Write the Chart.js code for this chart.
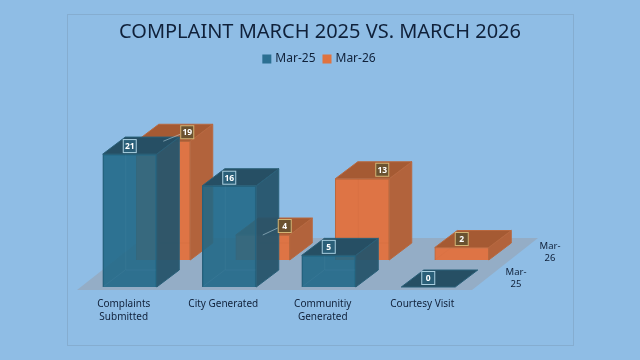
<!DOCTYPE html>
<html>
<head>
<meta charset="utf-8">
<style>html,body{margin:0;padding:0;background:#8fbde5}#w{width:640px;height:360px}</style>
<script src="https://cdn.jsdelivr.net/npm/chart.js@4"></script>
</head>
<body>
<div id="w"><canvas id="c" width="640" height="360"></canvas></div>
<script>
const titleText = "COMPLAINT MARCH 2025 VS. MARCH 2026";
const categories = [["Complaints","Submitted"],"City Generated",["Communitiy","Generated"],"Courtesy Visit"];
const seriesNames = ["Mar-25","Mar-26"];
const mar25 = [21,16,5,0];
const mar26 = [19,4,13,2];
const depthLabels = [["Mar-","25"],["Mar-","26"]];

const DX = 22.5, DY = -17, UNIT = 6.33, UNIT_BACK = 6.25, BASE = 287, YMAX = 30;
const BACK_X = 33.5, BACK_Y = -27;
const INK = "#10213a";
const skins = [
  {front:"rgba(32,104,134,0.88)",swatch:"#2b6f92",top:"#264f64",side:"rgba(38,84,107,0.95)",edge:"#2a6079",box:"#2a5f78",boxEdge:"#a9cfe0",inner:"rgba(170,210,230,0.06)"},
  {front:"#de7445",swatch:"#e0733f",top:"#a55a33",side:"#b2633c",edge:"#b8683f",box:"#6a5230",boxEdge:"#d2b474",inner:"rgba(120,50,20,0.04)"}
];
// label nudges from the centre of each bar's top edge: [dx, dy, leader?]
const nudges = [
  [[0,-8],[0,-8],[0,-8.5],[0,-9]],
  [[24,-9,1],[22,-9,1],[20,-9],[0,-8.5]]
];

function setRange(s,a,b){s._startPixel=a;s._endPixel=b;s._length=b-a;}
function poly(ctx,pts,fill,stroke){
  ctx.beginPath();pts.forEach((p,i)=>i?ctx.lineTo(p[0],p[1]):ctx.moveTo(p[0],p[1]));ctx.closePath();
  if(fill){ctx.fillStyle=fill;ctx.fill();}
  if(stroke){ctx.strokeStyle=stroke;ctx.lineWidth=1;ctx.stroke();}
}
function barBox(el){const p=el.getProps(['x','y','base','width'],true);return {l:p.x-p.width/2,r:p.x+p.width/2,t:p.y,b:p.base};}

const plugin3d = {
  id:"threeD",
  afterLayout(chart){
    const s=chart.scales;
    setRange(s.x,80,478); setRange(s.x2,80+BACK_X,478+BACK_X);
    setRange(s.y,BASE-YMAX*UNIT,BASE); setRange(s.y2,BASE+BACK_Y-YMAX*UNIT_BACK,BASE+BACK_Y);
  },
  beforeDraw(chart){
    const c=chart.ctx;
    c.save();c.strokeStyle="#85add0";c.lineWidth=1;c.strokeRect(67.5,14.5,506,331);
    // floor
    poly(c,[[77,290],[472,290],[538,238],[143,238]],"#94adc6");
    // depth axis labels
    c.fillStyle=INK;c.font='9.5px "Noto Sans"';c.textAlign="center";c.textBaseline="middle";
    [[516,272],[550,246]].forEach((p,i)=>{depthLabels[i].forEach((t,j)=>c.fillText(t,p[0],p[1]+j*12));});
    c.restore();
  },
  beforeDatasetDraw(chart,args){
    const c=chart.ctx,k=skins[args.index];
    c.save();
    chart.getDatasetMeta(args.index).data.forEach(el=>{
      const b=barBox(el);
      poly(c,[[b.l,b.b],[b.r,b.b],[b.r+DX,b.b+DY],[b.l+DX,b.b+DY]],k.inner);
    });
    c.restore();
  },
  afterDatasetDraw(chart,args){
    const c=chart.ctx,k=skins[args.index];
    c.save();
    chart.getDatasetMeta(args.index).data.forEach(el=>{
      const b=barBox(el);
      c.strokeStyle=k.inner;c.lineWidth=1;
      c.beginPath();c.moveTo(b.l+DX+.5,b.t+DY);c.lineTo(b.l+DX+.5,b.b+DY);c.lineTo(b.r+DX,b.b+DY);
      c.moveTo(b.l+DX,b.b+DY);c.lineTo(b.l,b.b);c.stroke();
      if(b.b-b.t>0.5) poly(c,[[b.r,b.t],[b.r+DX,b.t+DY],[b.r+DX,b.b+DY],[b.r,b.b]],k.side,k.edge);
      poly(c,[[b.l,b.t],[b.r,b.t],[b.r+DX,b.t+DY],[b.l+DX,b.t+DY]],k.top,k.edge);
    });
    c.restore();
  },
  afterDatasetsDraw(chart){
    const c=chart.ctx;
    c.save();
    c.font='bold 8.5px "Noto Sans"';c.textAlign="center";c.textBaseline="middle";
    [1,0].forEach(d=>{
      const k=skins[d];
      chart.getDatasetMeta(d).data.forEach((el,i)=>{
        const b=barBox(el),n=nudges[d][i],cx=(b.l+b.r)/2,x=cx+n[0],y=b.t+n[1];
        if(n[2]){c.strokeStyle="rgba(200,225,235,.5)";c.lineWidth=1;c.beginPath();c.moveTo(x-7,y+2);c.lineTo(cx,b.t);c.stroke();}
        c.fillStyle=k.box;c.fillRect(x-6.5,y-6.5,13,13);
        c.strokeStyle=k.boxEdge;c.lineWidth=1;c.strokeRect(x-6.5,y-6.5,13,13);
        c.fillStyle="#fff";c.fillText(String(chart.data.datasets[d].data[i]),x,y+.5);
      });
    });
    c.restore();
  }
};

new Chart(document.getElementById("c"),{
  type:"bar",
  data:{labels:categories,datasets:[
    {label:seriesNames[0],data:mar25,xAxisID:"x",yAxisID:"y",grouped:false,barThickness:54,backgroundColor:skins[0].front,borderColor:skins[0].edge,borderWidth:1,clip:false},
    {label:seriesNames[1],data:mar26,xAxisID:"x2",yAxisID:"y2",grouped:false,barThickness:54,backgroundColor:skins[1].front,borderColor:skins[1].edge,borderWidth:1,clip:false}
  ]},
  options:{
    responsive:false,animation:false,
    layout:{padding:0},
    plugins:{
      tooltip:{enabled:false},
      title:{display:true,text:titleText,color:INK,font:{family:'"Noto Sans"',size:20,weight:"normal"},padding:{top:20,bottom:0}},
      legend:{display:true,position:"top",labels:{color:INK,font:{family:'"Noto Sans"',size:12},boxWidth:5,boxHeight:5,padding:9,
        generateLabels(chart){
          return chart.data.datasets.map((d,i)=>({text:d.label,fillStyle:skins[i].swatch,strokeStyle:skins[i].swatch,lineWidth:4,fontColor:INK,datasetIndex:i}));
        }}}
    },
    scales:{
      x:{type:"category",position:"bottom",grid:{display:false},border:{display:false},afterFit(s){s.height=73;},
         ticks:{color:INK,padding:3,labelOffset:-6,maxRotation:0,autoSkip:false,font:{family:'"Noto Sans"',size:10,lineHeight:1.3}}},
      x2:{type:"category",display:false},
      y:{display:false,min:0,max:YMAX},
      y2:{display:false,min:0,max:YMAX}
    }
  },
  plugins:[plugin3d]
});
</script>
</body>
</html>
